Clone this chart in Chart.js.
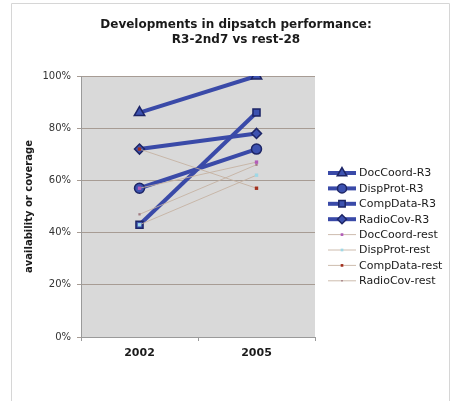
<!DOCTYPE html>
<html>
<head>
<meta charset="utf-8">
<script src="https://cdn.jsdelivr.net/npm/chart.js@4"></script>
<style>
  html, body { margin: 0; padding: 0; background: #ffffff; }
  #wrap { width: 451px; height: 401px; }
</style>
</head>
<body>
<div id="wrap"><canvas id="myChart" width="451" height="401"></canvas></div>
<script>
// chart data
const years = ['2002', '2005'];
const titleLines = ['Developments in dipsatch performance:', 'R3-2nd7 vs rest-28'];
const yTicks = [0, 20, 40, 60, 80, 100];

const docCoordR3 = [86, 100];
const dispProtR3 = [57, 72];
const compDataR3 = [43, 86];
const radioCovR3 = [72, 78];

const docCoordRest = [57, 67];
const dispProtRest = [43, 62];
const compDataRest = [72, 57];
const radioCovRest = [47, 66];

const FONT = "'DejaVu Sans', Verdana, sans-serif";

// thick blue series for R3
function r3Series(label, data, style) {
  return {
    label,
    data,
    borderColor: '#3a4aa8',
    borderWidth: 4,
    pointStyle: style,
    pointRadius: style === 'triangle' ? 6 : 5,
    pointBackgroundColor: '#3d52b0',
    pointBorderColor: '#1d2566',
    pointBorderWidth: 1.5,
    order: 1,
  };
}

// thin light series for the rest
function restSeries(label, data, color, radius) {
  return {
    label,
    data,
    borderColor: 'rgba(196, 176, 160, 0.85)',
    borderWidth: 1,
    pointStyle: 'rect',
    pointRadius: radius,
    pointBackgroundColor: color,
    pointBorderColor: color,
    pointBorderWidth: 0,
    order: 0,
  };
}

const datasets = [
  r3Series('DocCoord-R3', docCoordR3, 'triangle'),
  r3Series('DispProt-R3', dispProtR3, 'circle'),
  r3Series('CompData-R3', compDataR3, 'rect'),
  r3Series('RadioCov-R3', radioCovR3, 'rectRot'),
  restSeries('DocCoord-rest', docCoordRest, '#b25cb8', 2.4),
  restSeries('DispProt-rest', dispProtRest, '#9fd8e6', 2.4),
  restSeries('CompData-rest', compDataRest, '#a3311f', 2.4),
  restSeries('RadioCov-rest', radioCovRest, '#a07a80', 1.6),
];

// frame, grey plot background, title and side legend
const excelLook = {
  id: 'excelLook',
  beforeDraw(chart) {
    const { ctx, chartArea: a } = chart;
    ctx.save();
    ctx.fillStyle = '#ffffff';
    ctx.fillRect(0, 0, chart.width, chart.height);
    ctx.strokeStyle = '#d6d6d6';
    ctx.lineWidth = 1;
    ctx.beginPath();
    ctx.moveTo(11.5, chart.height);
    ctx.lineTo(11.5, 3.5);
    ctx.lineTo(449.5, 3.5);
    ctx.lineTo(449.5, chart.height);
    ctx.stroke();
    ctx.fillStyle = '#d9d9d9';
    ctx.fillRect(a.left, a.top, a.right - a.left, a.bottom - a.top);
    ctx.restore();
  },
  afterDraw(chart) {
    const { ctx } = chart;
    ctx.save();
    ctx.fillStyle = '#1a1a1a';
    ctx.textAlign = 'center';
    ctx.textBaseline = 'alphabetic';
    ctx.font = 'bold 12px ' + FONT;
    titleLines.forEach((t, i) => ctx.fillText(t, 236, 28 + i * 15));

    // legend: line sample with marker, then the label
    ctx.textAlign = 'left';
    ctx.textBaseline = 'middle';
    ctx.font = '11px ' + FONT;
    chart.data.datasets.forEach((ds, i) => {
      const y = 173 + i * 15.4;
      ctx.strokeStyle = ds.borderColor;
      ctx.lineWidth = ds.borderWidth;
      ctx.beginPath();
      ctx.moveTo(328, y);
      ctx.lineTo(356, y);
      ctx.stroke();
      ctx.fillStyle = ds.pointBackgroundColor;
      ctx.strokeStyle = ds.pointBorderColor;
      ctx.lineWidth = ds.pointBorderWidth;
      Chart.helpers.drawPoint(ctx, {
        pointStyle: ds.pointStyle,
        radius: ds.pointRadius - 0.5,
        borderWidth: ds.pointBorderWidth,
        rotation: 0,
      }, 342, y);
      ctx.fillStyle = '#1a1a1a';
      ctx.fillText(ds.label, 359, y + 0.5);
    });
    ctx.restore();
  },
};

new Chart(document.getElementById('myChart'), {
  type: 'line',
  data: { labels: years, datasets },
  options: {
    responsive: false,
    animation: false,
    layout: { padding: { top: 76, right: 136, bottom: 0, left: 0 } },
    plugins: {
      legend: { display: false },
      title: { display: false },
      tooltip: { enabled: false },
    },
    scales: {
      x: {
        offset: true,
        afterFit(scale) { scale.height = 64; },
        grid: {
          offset: true,
          drawOnChartArea: false,
          tickLength: 4,
          color: '#9a9a9a',
        },
        border: { color: '#9a9a9a', width: 1 },
        ticks: {
          padding: 6,
          color: '#1a1a1a',
          font: { family: FONT, size: 11, weight: 'bold' },
        },
      },
      y: {
        min: 0,
        max: 100,
        afterFit(scale) { scale.width = 81; },
        afterBuildTicks(scale) { scale.ticks = yTicks.map((v) => ({ value: v })); },
        grid: {
          color: '#a79c94',
          tickLength: 4,
          drawTicks: true,
        },
        border: { color: '#9a9a9a', width: 1 },
        ticks: {
          padding: 6,
          color: '#333333',
          font: { family: FONT, size: 10 },
          callback: (v) => v + '%',
        },
        title: {
          display: true,
          text: 'availability or coverage',
          color: '#1a1a1a',
          padding: { top: 23, bottom: 0 },
          font: { family: FONT, size: 10, weight: 'bold' },
        },
      },
    },
  },
  plugins: [excelLook],
});
</script>
</body>
</html>
